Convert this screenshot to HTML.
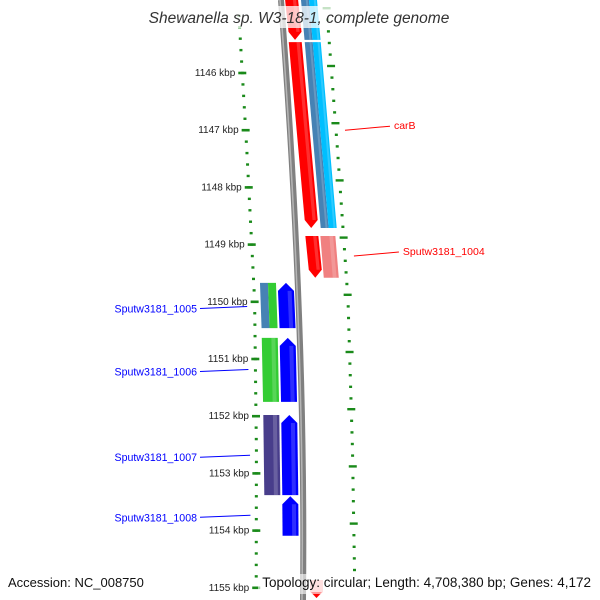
<!DOCTYPE html>
<html><head><meta charset="utf-8"><style>
html,body{margin:0;padding:0;background:#fff;}
svg{display:block;font-family:"Liberation Sans","DejaVu Sans",sans-serif;}
</style></head><body>
<svg id="map" width="600" height="600" viewBox="0 0 600 600" xmlns="http://www.w3.org/2000/svg">
<g id="ticks"></g>
<path d="M281,0 Q306,330 303,600" fill="none" stroke="#808080" stroke-width="6"/>
<path d="M280,0 Q305,330 302,600" fill="none" stroke="#b5b5b5" stroke-width="1.5"/>
<g id="features"></g>
<g id="labels"></g>
<rect x="143" y="6" width="314" height="22" fill="#fff" opacity="0.75"/>
<text x="299" y="23" text-anchor="middle" font-size="15.5" font-style="italic" fill="#333">Shewanella sp. W3-18-1, complete genome</text>
<rect x="258" y="574" width="338" height="20" fill="#fff" opacity="0.6"/>
<text x="8" y="587" font-size="13" fill="#111">Accession: NC_008750</text>
<text x="591" y="587" text-anchor="end" font-size="13.5" fill="#111">Topology: circular; Length: 4,708,380 bp; Genes: 4,172</text>
</svg>
<script>
const kbpTicks=[1146,1147,1148,1149,1150,1151,1152,1153,1154,1155];
const tickLabels=["1146 kbp","1147 kbp","1148 kbp","1149 kbp","1150 kbp","1151 kbp","1152 kbp","1153 kbp","1154 kbp","1155 kbp"];
// features: [start kbp, end kbp]
const featStarts=[1144.6,1145.46,1148.85,1144.6,1145.46,1144.6,1145.46,1148.85,1149.67,1149.67,1150.63,1150.63,1151.98,1151.98,1153.40];
const featEnds=[1145.42,1148.71,1149.58,1145.42,1148.71,1145.42,1148.71,1149.58,1150.46,1150.46,1151.75,1151.75,1153.38,1153.38,1154.09];
const featColors=["#ff0000","#ff0000","#ff0000","#4682b4","#4682b4","#00bfff","#00bfff","#f08080","split","#0000ff","#33cc33","#0000ff","#483d8b","#0000ff","#0000ff"];
const featStrand=[1,1,1,0,0,0,0,0,0,-1,0,-1,0,-1,-1];
const featRing=["r0","r0","r0","r1","r1","r2","r2","r3","l0","l1","l0","l1","l0","l1","l1"];
const geneNames=["carB","Sputw3181_1004","Sputw3181_1005","Sputw3181_1006","Sputw3181_1007","Sputw3181_1008"];
const geneKbp=[1147.0,1149.2,1150.1,1151.2,1152.7,1153.75];
const geneSide=["r","r","l","l","l","l"];

const NS="http://www.w3.org/2000/svg";
function y(k){return 73+(k-1146)*57.2;}
const fp=[[0,280],[150,290],[300,299],[450,302],[600,303]];
function f(yy){for(let i=0;i<fp.length-1;i++){if(yy<=fp[i+1][0]){const t=(yy-fp[i][0])/(fp[i+1][0]-fp[i][0]);return fp[i][1]+t*(fp[i+1][1]-fp[i][1]);}}return 303;}
const rings={r0:[5,13,1],r1:[21,8,1],r2:[29,8,1],r3:[20,15,1],l0:[-38,16,0],l1:[-20,16,0]};
function rx(yy,ring){const r=rings[ring];return f(yy)+(r[2]?0.022*yy:0)+r[0];}
function el(tag,attrs,parent){const e=document.createElementNS(NS,tag);for(const a in attrs)e.setAttribute(a,attrs[a]);parent.appendChild(e);return e;}

const tg=document.getElementById('ticks');
for(let i=0;i<kbpTicks.length;i++){
  for(let m=0;m<5;m++){
    const yy=y(kbpTicks[i])+m*57.2/5-57.2;
    if(yy<0)continue;
    const xl=f(yy)-42-yy*0.008;
    const t=el('rect',{x:xl-1.5,y:yy-1.2,width:3,height:2.4,fill:'#1a8a1a'},tg);
    
    
  }
  const yy=y(kbpTicks[i]);
  const xl=f(yy)-42-yy*0.008;
  const mt=el('rect',{x:xl-4,y:yy-1.3,width:8,height:2.6,fill:'#1a8a1a'},tg);
  
  
  const tl=el('text',{x:xl-7,y:yy+3,'font-size':10,'text-anchor':'end',fill:'#222'},tg);
  tl.textContent=tickLabels[i];
  
  
}
for(let i=-1;i<kbpTicks.length;i++){
  const base=y(kbpTicks[Math.max(i,0)])-7+(i<0?-57.8:0);
  for(let m=0;m<5;m++){
    const yy=base+m*11.6;
    if(yy<2||yy>575)continue;
    const xr=f(yy)+46+yy*0.01;
    const w=m===0?8:3;
    const t=el('rect',{x:xr-w/2,y:yy-1.2,width:w,height:2.4,fill:'#1a8a1a'},tg);
    
    
  }
}

const fg=document.getElementById('features');
for(let i=0;i<featStarts.length;i++){
  const y0=Math.max(y(featStarts[i]),-5), y1=y(featEnds[i]);
  const ring=featRing[i], w=rings[ring][1];
  const a0=rx(y0,ring), a1=rx(y1,ring);
  const s=featStrand[i], ah=8;
  let pts;
  if(s===1){pts=[[a0,y0],[a0+w,y0],[a1+w,y1-ah],[a1+w/2,y1],[a1,y1-ah]];}
  else if(s===-1){pts=[[a0,y0+ah],[a0+w/2,y0],[a0+w,y0+ah],[a1+w,y1],[a1,y1]];}
  else{pts=[[a0,y0],[a0+w,y0],[a1+w,y1],[a1,y1]];}
  const col=featColors[i];
  if(col==='split'){
    const p1=el('polygon',{points:[[a0,y0],[a0+w/2,y0],[a1+w/2,y1],[a1,y1]].map(p=>p.join(',')).join(' '),fill:'#4682b4'},fg);
    
    
    const p2=el('polygon',{points:[[a0+w/2,y0],[a0+w,y0],[a1+w,y1],[a1+w/2,y1]].map(p=>p.join(',')).join(' '),fill:'#33cc33'},fg);
    
    
    continue;
  }
  const p=el('polygon',{points:pts.map(p=>p.join(',')).join(' '),fill:col},fg);
  
  
  const hl=el('polygon',{points:[[a0+w*0.6,y0+(s===-1?ah:0)],[a0+w*0.85,y0+(s===-1?ah:0)],[a1+w*0.85,y1-(s===1?ah:0)],[a1+w*0.6,y1-(s===1?ah:0)]].map(p=>p.join(',')).join(' '),fill:'#fff',opacity:0.18},fg);
  
  
}
const ba=el('polygon',{points:'310,580 323,580 323,592 316.5,598 310,592',fill:'#ffb0b0'},fg);


const bb=el('polygon',{points:'311,592 322,592 316.5,598',fill:'#ff0000'},fg);



const lg=document.getElementById('labels');
for(let i=0;i<geneNames.length;i++){
  const yy=y(geneKbp[i]);
  if(geneSide[i]==='r'){
    const x0=f(yy)+52+yy*0.01;
    const ln=el('line',{x1:x0+3,y1:yy,x2:x0+48,y2:yy-4,stroke:'#ff0000','stroke-width':1},lg);
    
    
    const t=el('text',{x:x0+52,y:yy-1,'font-size':10.5,fill:'#ff0000'},lg);
    t.textContent=geneNames[i];
    
    
  } else {
    const x1=f(yy)-52;
    const ln=el('line',{x1:200,y1:yy+1,x2:x1,y2:yy-1,stroke:'#0000ff','stroke-width':1},lg);
    
    
    const t=el('text',{x:197,y:yy+5,'font-size':10.6,'text-anchor':'end',fill:'#0000ff'},lg);
    t.textContent=geneNames[i];
    
    
  }
}
</script>
</body></html>
